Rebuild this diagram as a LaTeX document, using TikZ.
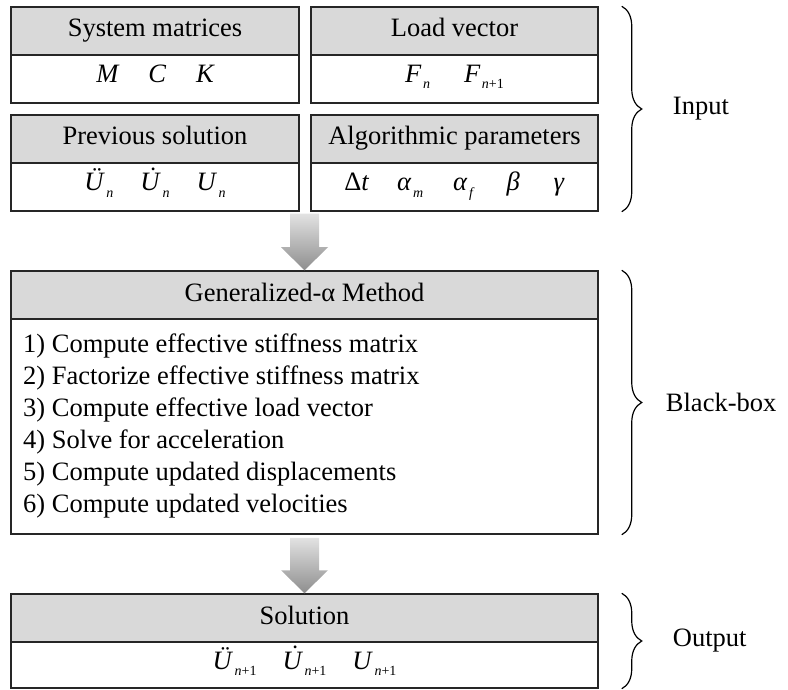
\documentclass[tikz,border=0pt]{standalone}
\usepackage{fontspec}
\setmainfont{Liberation Serif}
\usetikzlibrary{decorations.pathreplacing,calc}
\definecolor{hdrgray}{HTML}{D9D9D9}
\definecolor{arrtop}{HTML}{E2E2E2}
\definecolor{arrbot}{HTML}{8E8E8E}
% lowered subscript in the style of the equation editor
\newcommand\vsub[1]{\kern1.5pt\raisebox{-6pt}{\fontsize{14}{14}\selectfont #1}}
\newcommand\np{\textit{n}+1}
% italic U with a dot above (velocity)
\newcommand\dU{\textit{\accent"02D9 U}}
\begin{document}
\begin{tikzpicture}[x=1pt,y=-1pt,
  txt/.style={font=\fontsize{26.5}{32}\selectfont, inner sep=0pt},
  hdr/.style={txt, draw=black!85, line width=1.5pt, fill=hdrgray,
    minimum height=48pt, text height=18pt, text depth=6pt},
  bdy/.style={txt, draw=black!85, line width=1.5pt, fill=white,
    text height=18pt, text depth=10pt},
  brc/.style={draw=black, line width=1.2pt, decorate,
    decoration={brace, amplitude=20pt}},
  blk/.style={top color=arrtop, bottom color=arrbot, draw=none}]
\useasboundingbox (0,0) rectangle (788,690);

% ---- input boxes
\node[hdr, minimum width=288pt] (sysH) at (155,31) {System matrices};
\node[bdy, minimum width=288pt, minimum height=48pt] (sysB) at (155,79)
  {\itshape M\hspace{30pt}C\hspace{30pt}K};
\node[hdr, minimum width=287pt] (loadH) at (454.5,31) {Load vector};
\node[bdy, minimum width=287pt, minimum height=48pt] (loadB) at (454.5,79)
  {\textit{F}\vsub{\textit{n}}\hspace{34pt}\textit{F}\vsub{\np}};
\node[hdr, minimum width=288pt] (prevH) at (155,139) {Previous solution};
\node[bdy, minimum width=288pt, minimum height=48pt] (prevB) at (155,187)
  {\textit{\"U}\vsub{\textit{n}}\hspace{27pt}\dU\vsub{\textit{n}}\hspace{27pt}\textit{U}\vsub{\textit{n}}};
\node[hdr, minimum width=287pt] (algH) at (454.5,139) {Algorithmic parameters};
\node[bdy, minimum width=287pt, minimum height=48pt] (algB) at (454.5,187)
  {Δ\textit{t}\hspace{28pt}\textit{α}\vsub{\textit{m}}\hspace{30pt}\textit{α}\vsub{\textit{f}}\hspace{32pt}\textit{β}\hspace{34pt}\textit{γ}};

% ---- method box
\node[hdr, minimum width=587pt] (bigH) at (304.5,295) {Generalized-α Method};
\node[bdy, minimum width=587pt, minimum height=215pt] (bigB) at (304.5,426.5) {};
\node[txt, anchor=base west] (s1) at (23,352) {1) Compute effective stiffness matrix};
\node[txt, anchor=base west] (s2) at (23,384) {2) Factorize effective stiffness matrix};
\node[txt, anchor=base west] (s3) at (23,416) {3) Compute effective load vector};
\node[txt, anchor=base west] (s4) at (23,448) {4) Solve for acceleration};
\node[txt, anchor=base west] (s5) at (23,480) {5) Compute updated displacements};
\node[txt, anchor=base west] (s6) at (23,512) {6) Compute updated velocities};

% ---- output box
\node[hdr, minimum width=587pt] (outH) at (304.5,618) {Solution};
\node[bdy, minimum width=587pt, minimum height=46pt] (outB) at (304.5,665)
  {\textit{\"U}\vsub{\np}\hspace{26pt}\dU\vsub{\np}\hspace{26pt}\textit{U}\vsub{\np}};

% ---- block arrows between the stages
\shade[blk] let \p1=(bigH.north), \p2=(prevB.south) in
  (\x1-14.5pt,\y2-2pt) -- (\x1+14.5pt,\y2-2pt) -- (\x1+14.5pt,\y1+23pt)
  -- (\x1+23.5pt,\y1+23pt) -- (\x1,\y1) -- (\x1-23.5pt,\y1+23pt)
  -- (\x1-14.5pt,\y1+23pt) -- cycle;
\shade[blk] let \p1=(outH.north), \p2=(bigB.south) in
  (\x1-14.5pt,\y2-3pt) -- (\x1+14.5pt,\y2-3pt) -- (\x1+14.5pt,\y1+23pt)
  -- (\x1+23.5pt,\y1+23pt) -- (\x1,\y1) -- (\x1-23.5pt,\y1+23pt)
  -- (\x1-14.5pt,\y1+23pt) -- cycle;

% ---- braces and their labels
\draw[brc] ([xshift=23pt]loadH.north east) -- ([xshift=23pt]algB.south east);
\draw[brc] ([xshift=23pt]bigH.north east) -- ([xshift=23pt]bigB.south east);
\draw[brc] ([xshift=23pt]outH.north east) -- ([xshift=23pt]outB.south east);
\node[txt, anchor=west] (inLbl) at ($(loadH.north east)!0.5!(algB.south east)+(74,0)$) {Input};
\node[txt, anchor=west] (bbLbl) at ($(bigH.north east)!0.5!(bigB.south east)+(67,0)$) {Black-box};
\node[txt, anchor=west] (outLbl) at ($(outH.north east)!0.5!(outB.south east)+(74,0)$) {Output};
\end{tikzpicture}
\end{document}
